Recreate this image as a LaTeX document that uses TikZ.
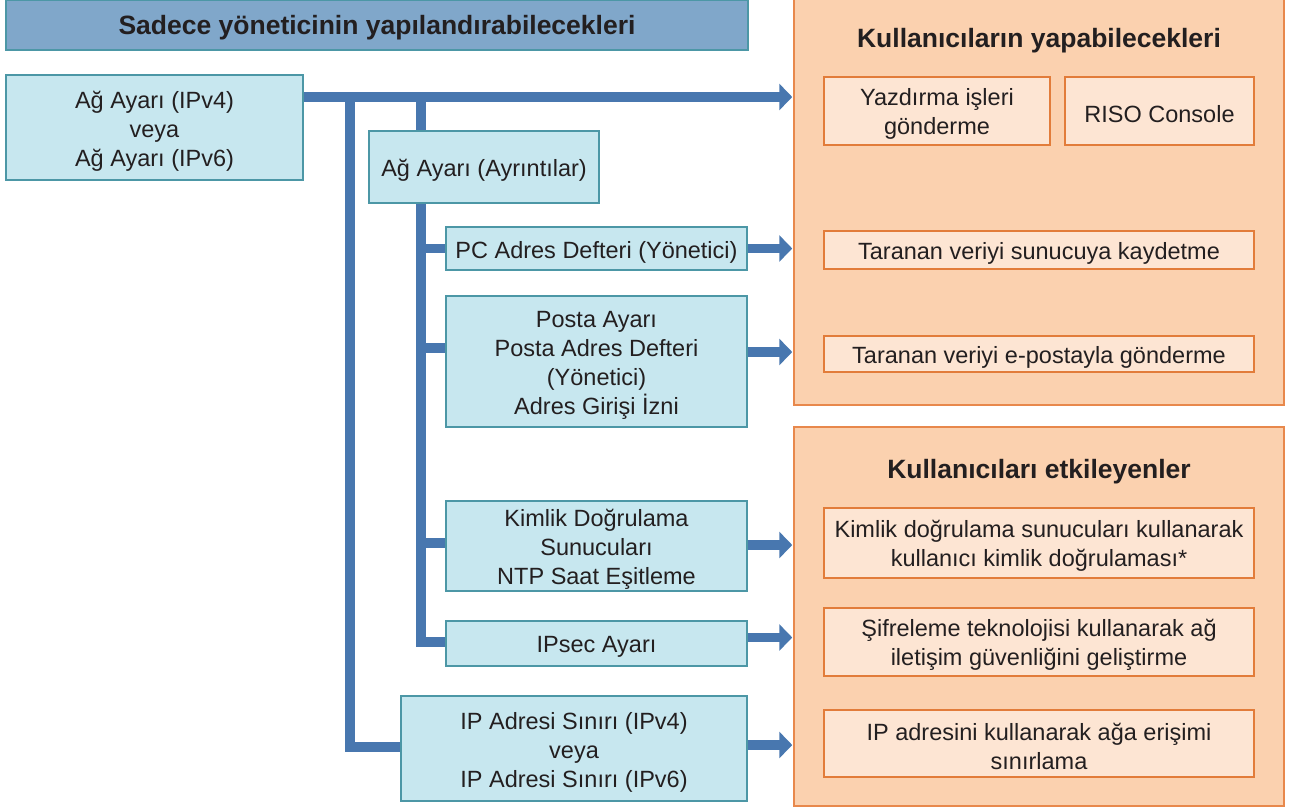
\documentclass[tikz,border=0pt]{standalone}
\usepackage{fontspec}
\setmainfont{Liberation Sans}
\usetikzlibrary{arrows.meta,calc,backgrounds}
\definecolor{ink}{HTML}{231F20}
\definecolor{bluefill}{HTML}{C7E7EF}
\definecolor{blueedge}{HTML}{4C97A6}
\definecolor{headfill}{HTML}{80A7CA}
\definecolor{panelfill}{HTML}{FBD1AF}
\definecolor{paneledge}{HTML}{E8884C}
\definecolor{itemfill}{HTML}{FDE5D3}
\definecolor{itemedge}{HTML}{E27C3A}
\definecolor{conncol}{HTML}{4877AF}
\begin{document}
\begin{tikzpicture}[x=1pt,y=-1pt,
  txt/.style={font=\fontsize{23.5}{29}\selectfont, text=ink, align=center, inner sep=0pt},
  bbox/.style={draw=blueedge, line width=1.5pt, fill=bluefill, inner sep=0pt,
    label={[txt,yshift=-3.5pt]center:#1}},
  hbox/.style={draw=blueedge, line width=1.5pt, fill=headfill, inner sep=0pt, text=ink,
    label={[font=\fontsize{26.5}{32}\selectfont\bfseries, text=ink, inner sep=0pt, yshift=-3pt]center:#1}},
  panel/.style={draw=paneledge, line width=1.5pt, fill=panelfill, inner sep=0pt},
  ptitle/.style={font=\fontsize{26.5}{32}\selectfont\bfseries, text=ink, inner sep=0pt},
  item/.style={draw=itemedge, line width=1.5pt, fill=itemfill, inner sep=0pt,
    label={[txt,yshift=-3pt]center:#1}},
  conn/.style={draw=conncol, line width=9.5pt, line join=miter},
  arr/.style={conn, -{Triangle[length=13pt,width=26pt]}, shorten >=1pt}
]
\useasboundingbox (0,0) rectangle (1291,807);
% header
\node[hbox={Sadece yöneticinin yapılandırabilecekleri}, minimum width=742, minimum height=50] (title) at (377,25) {};
% right panels
\node[panel, minimum width=490, minimum height=406] (P1) at (1039,202) {};
\node[panel, minimum width=490, minimum height=379] (P2) at (1039,616.5) {};
\node[ptitle] (T1) at (1039,41) {Kullanıcıların yapabilecekleri};
\node[ptitle] (T2) at (1039,472) {Kullanıcıları etkileyenler};
\node[item={Yazdırma işleri\\gönderme}, minimum width=226, minimum height=68] (I1) at (937,111) {};
\node[item={RISO Console}, minimum width=189, minimum height=68] (I2) at (1159.5,111) {};
\node[item={Taranan veriyi sunucuya kaydetme}, minimum width=430, minimum height=38] (I3) at (1039,250) {};
\node[item={Taranan veriyi e-postayla gönderme}, minimum width=430, minimum height=36] (I4) at (1039,354) {};
\node[item={Kimlik doğrulama sunucuları kullanarak\\kullanıcı kimlik doğrulaması*}, minimum width=430, minimum height=70] (I5) at (1039,543) {};
\node[item={Şifreleme teknolojisi kullanarak ağ\\iletişim güvenliğini geliştirme}, minimum width=430, minimum height=68] (I6) at (1039,642) {};
\node[item={IP adresini kullanarak ağa erişimi\\sınırlama}, minimum width=430, minimum height=67] (I7) at (1039,743.5) {};
% blue boxes
\node[bbox={Ağ Ayarı (IPv4)\\veya\\Ağ Ayarı (IPv6)}, minimum width=297, minimum height=105] (A) at (154.5,127.5) {};
\node[bbox={Ağ Ayarı (Ayrıntılar)}, minimum width=230, minimum height=72] (B) at (484,167) {};
\node[bbox={PC Adres Defteri (Yönetici)}, minimum width=301, minimum height=43] (C) at (596.5,248.5) {};
\node[bbox={Posta Ayarı\\Posta Adres Defteri\\(Yönetici)\\Adres Girişi İzni}, minimum width=301, minimum height=131] (D) at (596.5,361.5) {};
\node[bbox={Kimlik Doğrulama\\Sunucuları\\NTP Saat Eşitleme}, minimum width=301, minimum height=90] (E) at (596.5,546) {};
\node[bbox={IPsec Ayarı}, minimum width=301, minimum height=45] (F) at (596.5,643.5) {};
\node[bbox={IP Adresi Sınırı (IPv4)\\veya\\IP Adresi Sınırı (IPv6)}, minimum width=346, minimum height=105] (G) at (574,748.5) {};
% connectors
\coordinate (h) at (350,97);
\coordinate (k) at (421,97);
\coordinate (dj) at ([yshift=13.5pt]D.west);
\begin{scope}[on background layer]
\draw[conn] (h) |- ([yshift=1.5pt]G.west);
\draw[conn] (k) -- (k |- B.north);
\draw[conn] (k |- B.south) |- ([yshift=1.5pt]F.west);
\draw[conn] (k |- C.west) -- (C.west);
\draw[conn] (k |- dj) -- (dj);
\draw[conn] ([yshift=3pt]E.west -| k) -- ([yshift=3pt]E.west);
\end{scope}
\draw[arr] (A.east |- h) -- (h -| P1.west);
\draw[arr] (C.east) -- (C.east -| P1.west);
\draw[arr] ([yshift=9.5pt]D.east) -- ([yshift=9.5pt]D.east -| P1.west);
\draw[arr] ([yshift=1pt]E.east) -- ([yshift=1pt]E.east -| P2.west);
\draw[arr] ([yshift=6pt]F.east) -- ([yshift=6pt]F.east -| P2.west);
\draw[arr] ([yshift=3.5pt]G.east) -- ([yshift=3.5pt]G.east -| P2.west);
\end{tikzpicture}
\end{document}
